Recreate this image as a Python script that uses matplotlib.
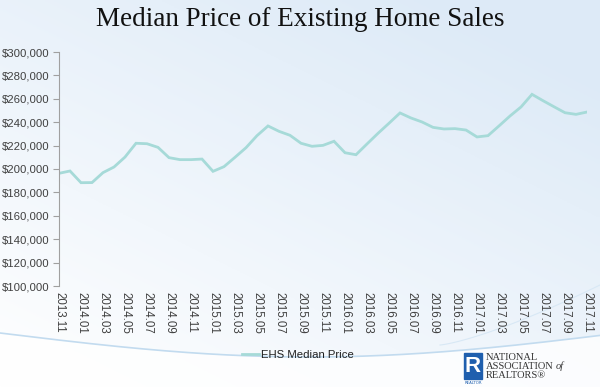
import matplotlib
matplotlib.use("Agg")
import matplotlib.pyplot as plt
import numpy as np
from matplotlib.ticker import FuncFormatter
from matplotlib.patches import Rectangle
from matplotlib.transforms import offset_copy

# monthly median price, 2013.11 .. 2017.11
months = []
for y in range(2013, 2018):
    for m in range(1, 13):
        if (y, m) >= (2013, 11) and (y, m) <= (2017, 11):
            months.append("%d.%02d" % (y, m))

prices = [196300, 198300, 188300, 188400, 196900, 201700, 210200, 222000,
          221600, 218500, 209700, 208000, 208000, 208500, 198000, 202000,
          210000, 218200, 228500, 236800, 232200, 228800, 222000, 219400,
          220200, 223700, 213900, 212200, 221400, 230500, 239100, 247900,
          243600, 240200, 235600, 234200, 234500, 233300, 227400, 228500,
          236800, 245300, 253000, 263800, 258400, 253200, 248100, 246700,
          248700]

series_name = "EHS Median Price"
title = "Median Price of Existing Home Sales"

W, H = 600, 387
fig = plt.figure(figsize=(W / 100, H / 100), dpi=100)

# background gradient
bg = fig.add_axes([0, 0, 1, 1], zorder=0)
gx, gy = np.meshgrid(np.linspace(0, 1, 200), np.linspace(0, 1, 200))
t = np.clip(0.5 * gx + 0.65 * gy, 0, 1)
c0 = np.array([1.0, 1.0, 1.0])
c1 = np.array([0.87, 0.92, 0.97])
img = c0[None, None, :] * (1 - t[..., None]) + c1[None, None, :] * t[..., None]
bg.imshow(img, extent=[0, W, 0, H], origin="lower", aspect="auto")
# white area below the swoosh
xs = np.linspace(0, W, 300)
arc = 387 - (333 + 24 * np.sin(np.pi * xs / 620))
bg.fill_between(xs, 0, arc, color="white", alpha=0.8, lw=0)
bg.plot(xs, arc, color="#c2dbef", lw=1.2)
xs2 = np.linspace(440, W, 100)
arc2 = 387 - (345 - 60 * ((xs2 - 440) / 160) ** 1.3)
bg.plot(xs2, arc2, color="#d8e8f5", lw=0.8)
bg.set_xlim(0, W)
bg.set_ylim(0, H)
bg.axis("off")

ax = fig.add_axes([59 / W, 1 - 286 / H, (587 - 59) / W, (286 - 52) / H], zorder=2)
ax.patch.set_alpha(0)
x = np.arange(len(prices))
line, = ax.plot(x, prices, color="#a6dad8", lw=2.0, solid_joinstyle="miter")
ax.set_xlim(0, len(prices) - 1)
ax.set_ylim(100000, 300000)
ax.set_yticks(np.arange(100000, 300001, 20000))
ax.yaxis.set_major_formatter(FuncFormatter(lambda v, p: "${:,.0f}".format(v)))
ax.set_xticks(x[::2])
ax.set_xticklabels(months[::2], rotation=270, fontsize=8.3, color="#404040",
                   family="Liberation Sans")
ax.tick_params(axis="x", length=0, pad=4)
ax.tick_params(axis="y", length=4, color="#a0a0a0", labelsize=8.2,
               labelcolor="#404040", pad=3)
for lab in ax.get_yticklabels():
    lab.set_family("Liberation Sans")
for s in ["top", "right", "bottom"]:
    ax.spines[s].set_visible(False)
ax.spines["left"].set_color("#a0a0a0")

fig.text(0.5, 1 - 19 / H, title, ha="center", va="center", fontsize=19.5,
         family="Liberation Serif", color="#111111")

fig.legend([line], [series_name], loc="center", bbox_to_anchor=(298 / W, 1 - 355 / H),
           frameon=False, prop={"family": "Liberation Sans", "size": 8.2},
           handlelength=1.5, handletextpad=0.2, labelcolor="#202020")

# logo
lg = fig.add_axes([0, 0, 1, 1], zorder=3)
lg.set_xlim(0, W)
lg.set_ylim(H, 0)
lg.axis("off")
lg.add_patch(Rectangle((464, 353), 18, 26, color="#1f5fae"))
lg.text(473, 366, "R", color="white", ha="center", va="center", fontsize=16,
        family="Liberation Sans", weight="bold")
lg.text(473, 382.5, "REALTOR", color="#1f5fae", ha="center", va="center", fontsize=2.8)
lg.text(486, 357, "NATIONAL", fontsize=7.5, family="Liberation Serif", color="#333333", va="center")
assoc = lg.text(486, 366.5, "ASSOCIATION", fontsize=7.5, family="Liberation Serif",
                color="#333333", va="center")
lg.text(486, 376, "REALTORS\u00ae", fontsize=7.5, family="Liberation Serif", color="#333333", va="center")

fig.canvas.draw()
bb = assoc.get_window_extent()
end_x = lg.transData.inverted().transform((bb.x1, bb.y0))[0]
lg.text(end_x + 2, 366.5, "of", fontsize=7.5, family="Liberation Serif", style="italic",
        color="#333333", va="center")

fig.savefig("out.png", dpi=100)
